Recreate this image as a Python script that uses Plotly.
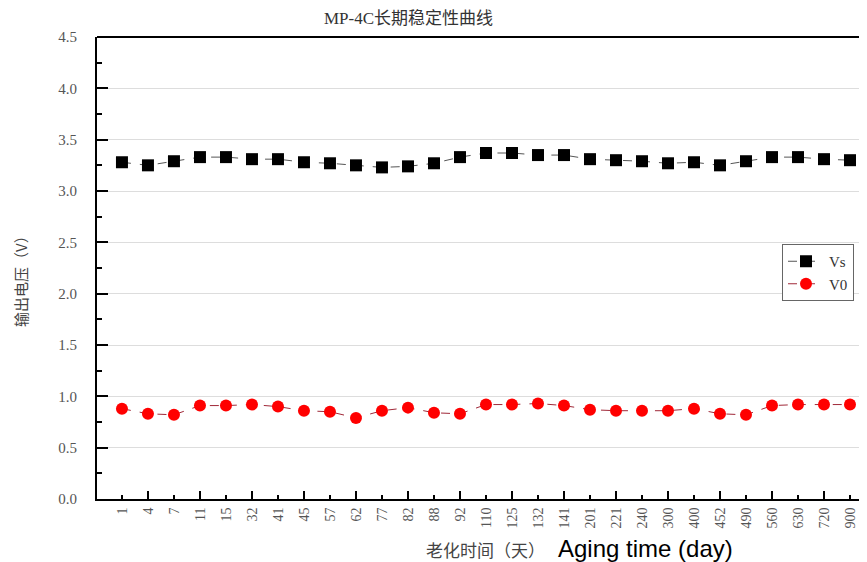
import plotly.graph_objects as go

days = ["1", "4", "7", "11", "15", "32", "41", "45", "57", "62", "77", "82", "88", "92", "110",
        "125", "132", "141", "201", "221", "240", "300", "400", "452", "490", "560", "630", "720", "900"]
vs = [3.28, 3.25, 3.29, 3.33, 3.33, 3.31, 3.31, 3.28, 3.27, 3.25, 3.23, 3.24, 3.27, 3.33, 3.37,
      3.37, 3.35, 3.35, 3.31, 3.30, 3.29, 3.27, 3.28, 3.25, 3.29, 3.33, 3.33, 3.31, 3.30]
v0 = [0.88, 0.83, 0.82, 0.91, 0.91, 0.92, 0.90, 0.86, 0.85, 0.79, 0.86, 0.89, 0.84, 0.83, 0.92,
      0.92, 0.93, 0.91, 0.87, 0.86, 0.86, 0.86, 0.88, 0.83, 0.82, 0.91, 0.92, 0.92, 0.92]

idx = list(range(len(days)))

# page body has an 8px default margin; work in page pixel coordinates
OFF = 8
PAGE_R = 867
W, H = PAGE_R - OFF, 562 - OFF
PL, PT, PB = 97, 37, 499           # plot edges in page pixels
L, R, T = PL - OFF, 0, PT - OFF
B = H - (PB - OFF)
pw = W - L - R
ph = H - T - B

def px(x):
    return (x - OFF - L) / pw

def py(y):
    return (H - B - (y - OFF)) / ph

fig = go.Figure()
fig.add_trace(go.Scatter(
    x=idx, y=vs, name="Vs", mode="lines+markers",
    line=dict(color="#555555", width=1, dash="dash"),
    marker=dict(symbol="square", size=12, color="black"),
))
fig.add_trace(go.Scatter(
    x=idx, y=v0, name="V0", mode="lines+markers",
    line=dict(color="#a02838", width=1, dash="dash"),
    marker=dict(symbol="circle", size=12, color="#ff0000"),
))

serif = "Liberation Serif, Times New Roman, serif"
cjk = "Noto Sans CJK SC, sans-serif"

fig.update_layout(
    width=W, height=H,
    margin=dict(l=L, r=R, t=T, b=B, autoexpand=False),
    paper_bgcolor="white", plot_bgcolor="white",
    showlegend=True,
    legend=dict(
        x=px(782), y=py(244), xanchor="left", yanchor="top",
        bordercolor="#666666", borderwidth=1, bgcolor="white",
        font=dict(family=serif, size=15, color="#333333"),
        itemwidth=36, tracegroupgap=0,
    ),
    title=dict(
        text="MP-4C长期稳定性曲线", x=px(456), xanchor="center", y=1 - (18 - OFF) / H, yanchor="middle",
        font=dict(family="Liberation Serif, Noto Sans CJK SC, serif", size=17, color="#333333"),
    ),
)

fig.update_xaxes(
    range=[-0.96, (PAGE_R - 122) / 26],
    automargin=False,
    tickmode="array", tickvals=idx, ticktext=days,
    tickangle=-90,
    ticks="inside", ticklen=4, tickwidth=1.5, tickcolor="black",
    showline=True, linecolor="black", linewidth=2,
    showgrid=False, zeroline=False,
    tickfont=dict(family=serif, size=14, color="#555555"),
    ticklabelstandoff=1,
    minor=dict(tickmode="array", tickvals=idx[1::2], ticks="inside", ticklen=8,
               tickwidth=1.5, tickcolor="black", showgrid=False),
)
fig.update_yaxes(
    range=[0, 4.5], dtick=0.5, tick0=0, tickformat=".1f",
    automargin=False,
    ticks="inside", ticklen=11, tickwidth=1.5, tickcolor="black",
    showline=True, linecolor="black", linewidth=2,
    showgrid=True, gridcolor="#dddddd", gridwidth=1, zeroline=False,
    tickfont=dict(family=serif, size=15, color="#555555"),
    ticklabelstandoff=15,
    minor=dict(dtick=0.25, ticks="inside", ticklen=5, tickwidth=1.5, tickcolor="black", showgrid=False),
)

fig.add_shape(type="line", xref="paper", yref="paper", x0=0, x1=1, y0=1, y1=1,
              line=dict(color="black", width=2))

fig.add_annotation(text="输出电压（V）", xref="paper", yref="paper",
                   x=px(20), y=py(278), textangle=-90, showarrow=False,
                   xanchor="center", yanchor="middle",
                   font=dict(family=cjk, size=15, color="#444444"))
fig.add_annotation(text="老化时间（天）", xref="paper", yref="paper",
                   x=px(424), y=py(549), showarrow=False, xanchor="left", yanchor="middle",
                   font=dict(family=cjk, size=17, color="#444444"))
fig.add_annotation(text="Aging time (day)", xref="paper", yref="paper",
                   x=px(556), y=py(548), showarrow=False, xanchor="left", yanchor="middle",
                   font=dict(family="Liberation Sans, Arial, sans-serif", size=24, color="black"))

fig.write_html("out.html")
